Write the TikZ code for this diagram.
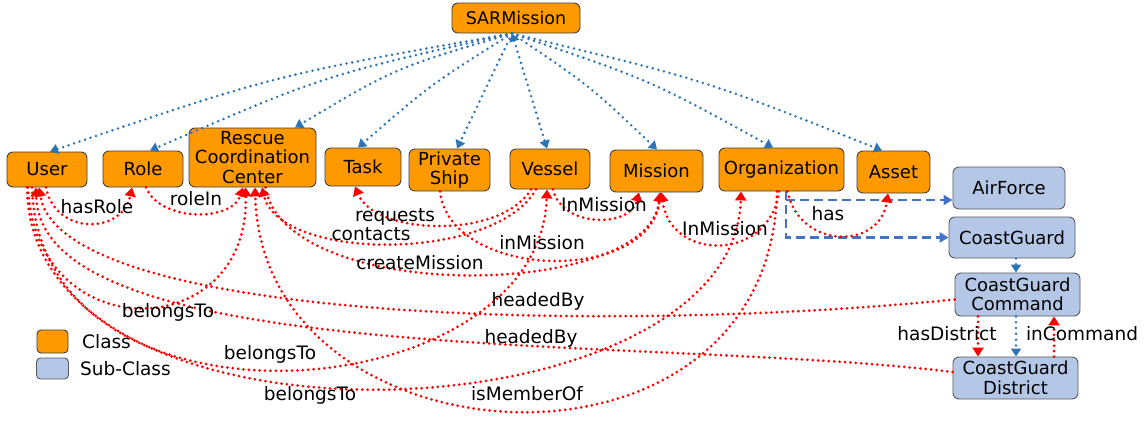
\documentclass[tikz,border=0pt]{standalone}
\usepackage{fontspec}
\setmainfont{DejaVu Sans}
\usetikzlibrary{arrows.meta}
\definecolor{clsorange}{RGB}{255,153,0}
\definecolor{subblue}{RGB}{180,199,231}
\definecolor{boxline}{RGB}{64,64,64}
\definecolor{subline}{RGB}{90,90,90}
\definecolor{cBlueDot}{RGB}{46,117,182}
\definecolor{cBlueDash}{RGB}{68,114,196}
\begin{document}
\begin{tikzpicture}[x=1pt,y=-1pt,
  clsbox/.style={draw=boxline, line width=0.9pt, fill=clsorange, rounded corners=6pt, inner sep=0pt, align=center, font=\fontsize{18}{19.5}\selectfont},
  subbox/.style={clsbox, fill=subblue, draw=subline},
  lbl/.style={inner sep=0pt, font=\fontsize{18.5}{20}\selectfont, text height=13.5pt, text depth=4pt},
  reddot/.style={draw=red, line width=3pt, dash pattern=on 0pt off 5.4pt, line cap=round, -{Triangle[length=9pt,width=11pt]}},
  bluedotted/.style={draw=cBlueDot, line width=2.8pt, dash pattern=on 0pt off 5.8pt, line cap=round, -{Triangle[length=8pt,width=10pt]}},
  bluedashed/.style={draw=cBlueDash, line width=2.8pt, dash pattern=on 9pt off 5pt, -{Triangle[length=9pt,width=10pt]}},
]
\fill[white] (0,0) rectangle (1146,423);
\useasboundingbox (0,0) rectangle (1146,423);

% nodes
\node[clsbox, minimum width=128pt, minimum height=30pt, font=\fontsize{17.5}{19}\selectfont] (sar) at (516,18) {SARMission};
\node[clsbox, minimum width=80pt, minimum height=35pt] (user) at (47,169.5) {User};
\node[clsbox, minimum width=80pt, minimum height=36pt] (role) at (143,169) {Role};
\node[clsbox, minimum width=127pt, minimum height=59pt] (rcc) at (252.5,157.5) {Rescue\\Coordination\\Center};
\node[clsbox, minimum width=76pt, minimum height=38pt] (task) at (363,167) {Task};
\node[clsbox, minimum width=81pt, minimum height=42pt] (pship) at (449.5,170) {Private\\Ship};
\node[clsbox, minimum width=80pt, minimum height=40pt] (vessel) at (550,169) {Vessel};
\node[clsbox, minimum width=93pt, minimum height=42pt] (mission) at (656.5,171) {Mission};
\node[clsbox, minimum width=125pt, minimum height=43pt] (org) at (781.5,169.5) {Organization};
\node[clsbox, minimum width=73pt, minimum height=42pt] (asset) at (893.5,172) {Asset};
\node[subbox, minimum width=112pt, minimum height=42pt] (airforce) at (1009,188) {AirForce};
\node[subbox, minimum width=126pt, minimum height=41pt] (cg) at (1012,237.5) {CoastGuard};
\node[subbox, minimum width=125pt, minimum height=43pt] (cgc) at (1017.5,294.5) {CoastGuard\\Command};
\node[subbox, minimum width=125pt, minimum height=42pt] (cgd) at (1015.5,378) {CoastGuard\\District};

% legend
\node[clsbox, minimum width=31pt, minimum height=23pt, rounded corners=4pt] (legc) at (52.5,341.5) {};
\node[subbox, minimum width=32pt, minimum height=21pt, rounded corners=4pt] (legs) at (52.5,368.5) {};
\node[lbl, anchor=west] (legct) at (82,344) {Class};
\node[lbl, anchor=west] (legst) at (80,371) {Sub-Class};

% blue dotted from SARMission
\draw[bluedotted] ([xshift=-4]sar.south) .. controls (275,75) .. ([xshift=3]user.north);
\draw[bluedotted] ([xshift=-4]sar.south) .. controls (325,75) .. ([xshift=7]role.north);
\draw[bluedotted] ([xshift=-4]sar.south) .. controls (395,68) .. ([xshift=42.5]rcc.north);
\draw[bluedotted] ([xshift=-4]sar.south) .. controls (430,85) .. ([xshift=-5]task.north);
\draw[bluedotted] ([xshift=-4]sar.south) -- ([xshift=7.5]pship.north);
\draw[bluedotted, {Triangle[length=8pt,width=10pt]}-{Triangle[length=8pt,width=10pt]}] ([xshift=-4]sar.south) -- ([xshift=-3]vessel.north);
\draw[bluedotted] ([xshift=-4]sar.south) .. controls (590,86) .. ([xshift=0.5]mission.north);
\draw[bluedotted] ([xshift=-4]sar.south) .. controls (650,80) .. ([xshift=-8.5]org.north);
\draw[bluedotted] ([xshift=-4]sar.south) .. controls (705,80) .. ([xshift=-11.5]asset.north);

% blue dashed from Organization
\coordinate (dashtop) at (786,200);
\draw[bluedashed] ([xshift=4.5]org.south) |- (cg.west);
\draw[bluedashed] (dashtop) -- (airforce.west |- dashtop);

% blue dotted sub-class chain
\draw[bluedotted] ([xshift=4]cg.south) -- ([xshift=-1.5]cgc.north);
\draw[bluedotted] ([xshift=-1.5]cgc.south) -- ([xshift=0.5]cgd.north);

% red dotted relations
\draw[reddot] ([xshift=-1]user.south) .. controls (55,235) and (122,235) .. ([xshift=-11]role.south);
\draw[reddot] ([xshift=3]role.south) .. controls (160,222) and (232,222) .. ([xshift=-9.5]rcc.south);
\draw[reddot] ([xshift=-19]user.south) .. controls (35,350) and (250,345) .. ([xshift=-7]rcc.south);
\draw[reddot] ([xshift=-4.5]org.south) .. controls (770,500) and (262,470) .. ([xshift=2.5]rcc.south);
\draw[reddot] ([xshift=-14]vessel.south) .. controls (495,262) and (280,262) .. ([xshift=9.5]rcc.south);
\draw[reddot] ([xshift=13]rcc.south) .. controls (285,305) and (650,300) .. ([xshift=3.5]mission.south);
\draw[reddot] ([xshift=-19]vessel.south) .. controls (500,240) and (375,235) .. ([xshift=-8]task.south);
\draw[reddot] ([xshift=-9.5]pship.south) .. controls (450,280) and (650,285) .. ([xshift=4]mission.south);
\draw[reddot] ([xshift=3]vessel.south) .. controls (562,228) and (630,228) .. ([xshift=-17.5]mission.south);
\draw[reddot] ([xshift=-2.5]org.south) .. controls (770,262) and (670,262) .. ([xshift=5]mission.south);
\draw[reddot] ([xshift=6]org.south) .. controls (800,250) and (880,250) .. ([xshift=-5.5]asset.south);
\draw[reddot] ([xshift=-15]user.south) .. controls (40,450) and (540,410) .. ([xshift=-3]vessel.south);
\draw[reddot] ([xshift=-20]user.south) .. controls (30,470) and (735,440) .. ([xshift=-40.5]org.south);
\draw[reddot] ([yshift=-5]cgc.west) .. controls (600,335) and (60,320) .. ([xshift=-8]user.south);
\draw[reddot] ([yshift=6]cgd.west) .. controls (650,335) and (40,370) .. ([xshift=-11]user.south);
\draw[reddot] ([xshift=-39.5]cgc.south) -- ([xshift=-37.5]cgd.north);
\draw[reddot] ([xshift=38.5]cgd.north) -- ([xshift=36.5]cgc.south);

% labels
\node[lbl] (l1) at (97,209) {hasRole};
\node[lbl] (l2) at (196,201) {roleIn};
\node[lbl] (l3) at (395,217) {requests};
\node[lbl] (l4) at (371,236) {contacts};
\node[lbl] (l5) at (420,265) {createMission};
\node[lbl] (l6) at (542,245) {inMission};
\node[lbl] (l7) at (604,207) {InMission};
\node[lbl] (l8) at (725,231) {InMission};
\node[lbl] (l9) at (828,216) {has};
\node[lbl] (l10) at (538,302) {headedBy};
\node[lbl] (l11) at (531,339) {headedBy};
\node[lbl] (l12) at (168,313) {belongsTo};
\node[lbl] (l13) at (270,355) {belongsTo};
\node[lbl] (l14) at (310,396) {belongsTo};
\node[lbl] (l15) at (527,396) {isMemberOf};
\node[lbl] (l16) at (947,336) {hasDistrict};
\node[lbl] (l17) at (1082,336) {inCommand};
\end{tikzpicture}
\end{document}
